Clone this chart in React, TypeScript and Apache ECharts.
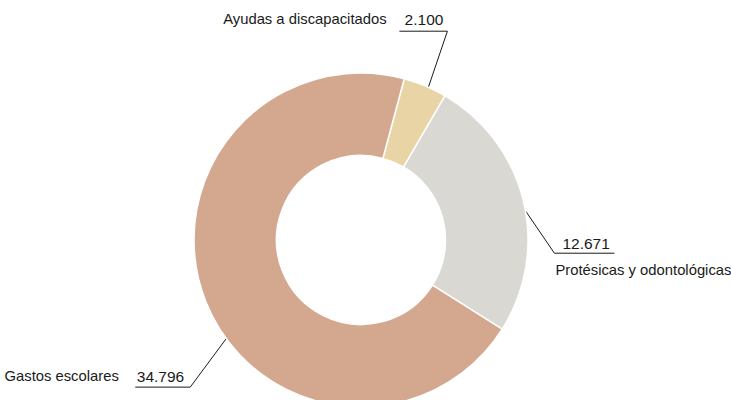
import React, { useEffect, useRef } from "react";
import * as echarts from "echarts";

const categories = ["Ayudas a discapacitados", "Protésicas y odontológicas", "Gastos escolares"];
const values = [2100, 12671, 34796];
const valueLabels = ["2.100", "12.671", "34.796"];
const colors = ["#E9D4A5", "#D9D8D3", "#D4A78F"];

const CENTER: [number, number] = [361, 240];
const R_IN = 84.5;
const R_OUT = 167;
const START_ANGLE = 75;

// label guide geometry: anchor angle on the outer edge (deg clockwise from 12 o'clock),
// elbow offset from the anchor, horizontal arm length
const GUIDES = [
  { angle: 23.8, elbow: [19, -56], arm: -48, align: "right", vAlign: "middle", dx: -4, dy: -12 },
  { angle: 79.9, elbow: [29, 42.5], arm: 60, align: "left", vAlign: "top", dx: 1, dy: -20 },
  { angle: 233.8, elbow: [-36, 48.5], arm: -55, align: "right", vAlign: "middle", dx: -6, dy: -11 },
];

const FONT = "'Liberation Sans', Arial, Helvetica, sans-serif";
const TEXT = "#1a1a1a";

export default function App() {
  const ref = useRef<HTMLDivElement>(null);
  useEffect(() => {
    if (!ref.current) return;
    const chart = echarts.init(ref.current, undefined, { renderer: "svg" });
    chart.setOption({
      animation: false,
      backgroundColor: "#ffffff",
      series: [
        {
          type: "pie",
          center: CENTER,
          radius: [R_IN, R_OUT],
          startAngle: START_ANGLE,
          clockwise: true,
          avoidLabelOverlap: false,
          silent: true,
          data: categories.map((name, i) => ({
            name,
            value: values[i],
            itemStyle: { color: colors[i] },
          })),
          itemStyle: { borderColor: "#ffffff", borderWidth: 1.5 },
          label: {
            show: true,
            position: "outside",
            fontFamily: FONT,
            color: TEXT,
            formatter: (p: any) => {
              const i = p.dataIndex;
              if (i === 1) return `{v2|${valueLabels[i]}}\n{n2|${categories[i]}}`;
              return `{n|${categories[i]}}{v|${valueLabels[i]}}`;
            },
            rich: {
              n: { fontSize: 14.8, color: TEXT, fontFamily: FONT, padding: [0, 18, 0, 0] },
              v: { fontSize: 15.5, color: TEXT, fontFamily: FONT },
              v2: { fontSize: 15.5, color: TEXT, fontFamily: FONT, lineHeight: 20, padding: [0, 0, 0, 7] },
              n2: { fontSize: 14.8, color: TEXT, fontFamily: FONT, lineHeight: 34 },
            },
          },
          labelLine: {
            show: true,
            lineStyle: { color: "#1a1a1a", width: 1 },
          },
          labelLayout: (params: any) => {
            const g = GUIDES[params.dataIndex];
            const a = (g.angle * Math.PI) / 180;
            const ax = CENTER[0] + R_OUT * Math.sin(a);
            const ay = CENTER[1] - R_OUT * Math.cos(a);
            const ex = ax + g.elbow[0];
            const ey = ay + g.elbow[1];
            return {
              x: ex + g.dx,
              y: ey + g.dy,
              align: g.align,
              verticalAlign: g.vAlign,
              labelLinePoints: [
                [ax, ay],
                [ex, ey],
                [ex + g.arm, ey],
              ],
            };
          },
        },
      ],
    });
    return () => chart.dispose();
  }, []);
  return (
    <div
      ref={ref}
      style={{ position: "absolute", left: 0, top: 0, width: 731, height: 400, background: "#fff" }}
    />
  );
}
